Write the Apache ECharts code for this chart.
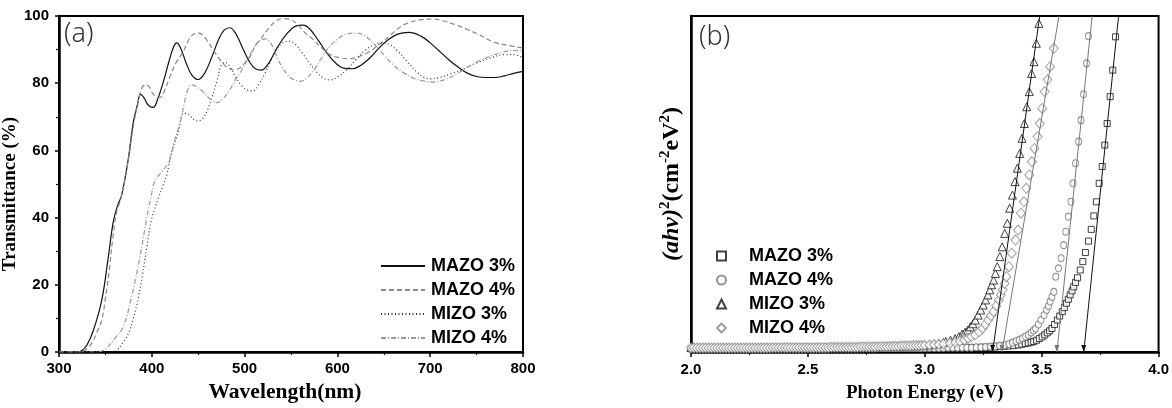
<!DOCTYPE html>
<html>
<head>
<meta charset="utf-8">
<script src="https://cdn.jsdelivr.net/npm/echarts@6/dist/echarts.min.js"></script>
<style>
  html, body { margin: 0; padding: 0; background: #fff; }
  #main { width: 1172px; height: 408px; }
</style>
</head>
<body>
<div id="main"></div>
<script>
// (a) transmittance spectra, [wavelength nm, T %]
var mazo3 = [[300,0],[310,0],[320,0],[325,0.5],[330,2],[337,6.4],[346,15.3],[353,28],[358.5,38.8],[363,43.5],[367.5,46.7],[374.7,57.5],[380,68.3],[384,73],[388,76.7],[392,75.5],[396,73.5],[401.6,72.8],[406,75],[412,80],[418,86],[423,90.5],[426.8,92],[431,90.5],[437,86],[443,82.5],[450,81.1],[457,83],[465,88],[472,93],[478,95.8],[484,96.5],[490,95],[497,91],[505,86.5],[512,84.2],[518,83.9],[526,86],[535,90.5],[545,94.5],[555,97],[563,97.3],[570,96.2],[580,92.5],[590,88.5],[600,85.5],[608,84.4],[616,84.3],[625,85.3],[635,87.5],[645,90.5],[655,93],[665,94.6],[677,95.1],[690,94],[700,92],[710,89.5],[720,87],[730,84.8],[740,83],[750,82],[760,81.7],[770,81.7],[780,82.2],[790,82.9],[800,83.5]];
var mazo4 = [[300,0],[320,0],[328,0.5],[335,2.5],[341,6],[346,9.4],[350,16],[353.6,23],[358,34],[362,41.5],[367,46],[374,56],[380,67],[385,74],[389,78.5],[393,79.5],[397,79],[401,77],[405,76],[409,75.8],[414,78],[419.6,82],[426,86],[434,89.5],[440,93],[445,94.6],[450,95],[455,94.3],[459,93],[466,90],[473.5,87],[480,85],[488,84],[495,84.5],[500,86],[506,88],[512,91.5],[517,93],[525,96],[533,98.3],[541,99.2],[549,99],[557,97.5],[565,95],[574,93],[583,90.5],[592,88.5],[602,87.6],[612,87.3],[622,87.8],[632,89],[645,91.5],[658,94.5],[668,96.8],[675,97.8],[690,98.9],[703,99.1],[715,98.5],[728,97.3],[740,96],[753,94.4],[768,92.3],[785,91.2],[800,90.5]];
var mizo3 = [[300,0],[355,0],[362,0.5],[368,2.5],[374.7,5.4],[380,10],[385.5,16.2],[390,23],[394.5,31],[400,39.8],[407,45.7],[412,49.5],[416,52.6],[421.5,59.6],[428.5,65.4],[434,71],[438,71],[442,70],[446,69],[450,68.8],[455,69.5],[460,72],[465,76],[470,80.5],[475,85.5],[479,86.2],[484,85],[490,82],[497,79.2],[503,78],[509,77.7],[515,79.5],[522,83],[528,86.5],[534.5,90],[541,92],[548,92.5],[555,91.5],[562,89],[570,86],[578,83.2],[585,81.5],[592,81],[600,81.8],[610,84],[620,87],[630,89.8],[640,91.5],[648,92],[656,91.5],[665,89.5],[675,86.5],[685,83.5],[693,81.8],[700,81.3],[710,81.7],[722,82.8],[735,84.2],[750,86],[765,87.5],[780,88.5],[790,88.5],[800,87.5]];
var mizo4 = [[300,0],[340,0],[346,0.3],[351,1],[360,4],[369,7.4],[378,16.2],[387,28],[394.5,39.8],[399,46],[403.5,51],[410.7,53.6],[416,55.5],[419.6,57.5],[425,63.4],[429,67],[432,70],[435,74],[439,78.2],[443,79.5],[448,79],[455,77.5],[462,75.5],[470,74.2],[477,75.5],[484,78],[490,81],[495,83],[503,87],[510,90.5],[516,92.5],[522,93.2],[528,92],[534,88.5],[540,85],[548,82],[555,80.8],[560,80.6],[567,81.5],[575,84],[583,87.5],[592,91],[602,93.5],[611,94.7],[621,94.9],[630,94],[640,91.5],[650,88.5],[660,85.5],[672,83],[684,81.3],[694,80.6],[703,80.3],[715,81],[730,83],[745,85.5],[764,88],[780,89.3],[790,89.8],[800,89.5]];

// (b) Tauc plot, baseline energies shared by all samples
var bandEnergy = [
  2.0000,2.0125,2.0250,2.0375,2.0500,2.0625,2.0750,2.0875,2.1000,2.1125,
  2.1250,2.1375,2.1500,2.1625,2.1750,2.1875,2.2000,2.2125,2.2250,2.2375,
  2.2500,2.2625,2.2750,2.2875,2.3000,2.3125,2.3250,2.3375,2.3500,2.3625,
  2.3750,2.3875,2.4000,2.4125,2.4250,2.4375,2.4500,2.4625,2.4750,2.4875,
  2.5000,2.5125,2.5250,2.5375,2.5500,2.5625,2.5750,2.5875,2.6000,2.6125,
  2.6250,2.6375,2.6500,2.6625,2.6750,2.6875,2.7000,2.7125,2.7250,2.7375,
  2.7500,2.7625,2.7750,2.7875,2.8000,2.8125,2.8250,2.8375,2.8500,2.8625,
  2.8750,2.8875,2.9000,2.9125,2.9250,2.9375,2.9500,2.9625,2.9750,2.9875,
  3.0000];
var bandMAZO3 = [
  1.0,1.0,1.0,1.0,1.0,1.0,1.0,1.0,1.0,1.0,
  1.0,1.0,1.0,1.0,1.0,1.0,1.0,1.0,1.0,1.0,
  1.0,1.0,1.0,1.0,1.0,1.0,1.0,1.0,1.0,1.0,
  1.0,1.0,1.0,1.0,1.0,1.0,1.0,1.0,1.0,1.0,
  1.0,1.0,1.0,1.0,1.0,1.0,1.0,1.0,1.0,1.0,
  1.0,1.0,1.0,1.0,1.0,1.0,1.0,1.0,1.0,1.0,
  1.0,1.0,1.0,1.0,1.0,1.0,1.0,1.0,1.0,1.0,
  1.0,1.0,1.1,1.1,1.1,1.1,1.1,1.1,1.1,1.1,
  1.1];
var bandMAZO4 = [
  1.1,1.1,1.1,1.1,1.1,1.1,1.1,1.1,1.1,1.1,
  1.1,1.1,1.1,1.1,1.1,1.1,1.1,1.1,1.1,1.1,
  1.1,1.1,1.1,1.1,1.1,1.1,1.1,1.1,1.1,1.1,
  1.1,1.1,1.1,1.1,1.1,1.1,1.1,1.1,1.1,1.1,
  1.1,1.1,1.1,1.1,1.1,1.1,1.1,1.1,1.1,1.1,
  1.1,1.1,1.1,1.1,1.1,1.1,1.1,1.1,1.1,1.1,
  1.1,1.1,1.1,1.1,1.2,1.2,1.2,1.2,1.2,1.2,
  1.2,1.2,1.2,1.2,1.2,1.2,1.2,1.2,1.2,1.2,
  1.2];
var bandMIZO3 = [
  1.3,1.3,1.3,1.3,1.3,1.3,1.3,1.3,1.3,1.3,
  1.3,1.3,1.3,1.3,1.3,1.3,1.3,1.3,1.3,1.3,
  1.3,1.3,1.3,1.3,1.3,1.3,1.3,1.3,1.3,1.3,
  1.3,1.3,1.4,1.4,1.4,1.4,1.4,1.4,1.4,1.4,
  1.4,1.4,1.4,1.4,1.4,1.4,1.4,1.4,1.4,1.4,
  1.4,1.4,1.4,1.4,1.4,1.4,1.5,1.5,1.5,1.5,
  1.5,1.5,1.6,1.6,1.6,1.6,1.7,1.7,1.7,1.7,
  1.8,1.8,1.8,1.8,1.9,1.9,1.9,1.9,2.0,2.0,
  2.1];
var bandMIZO4 = [
  1.2,1.2,1.2,1.2,1.2,1.2,1.2,1.2,1.2,1.2,
  1.2,1.2,1.2,1.2,1.2,1.2,1.2,1.2,1.2,1.2,
  1.2,1.2,1.2,1.2,1.2,1.2,1.2,1.2,1.3,1.3,
  1.3,1.3,1.3,1.3,1.3,1.3,1.3,1.3,1.3,1.3,
  1.3,1.3,1.3,1.3,1.3,1.3,1.3,1.3,1.4,1.4,
  1.4,1.4,1.4,1.4,1.4,1.4,1.4,1.4,1.5,1.5,
  1.5,1.5,1.5,1.5,1.6,1.6,1.6,1.6,1.7,1.7,
  1.7,1.7,1.8,1.8,1.8,1.8,1.9,1.9,1.9,2.0,
  2.0];

var edgeMAZO3 = [[3.02,1.1],[3.04,1.1],[3.06,1.1],[3.08,1.2],[3.10,1.2],[3.12,1.2],[3.14,1.2],[3.16,1.3],[3.18,1.3],[3.20,1.3],[3.22,1.3],[3.24,1.4],[3.26,1.4],[3.28,1.4],[3.30,1.5],[3.32,1.6],[3.34,1.7],[3.36,1.8],[3.38,1.9],[3.40,2.1],[3.415,2.3],[3.43,2.5],[3.443,2.7],[3.455,2.9],[3.466,3.1],[3.478,3.5],[3.49,4.0],[3.502,4.5],[3.513,5.1],[3.524,5.7],[3.534,6.3],[3.544,7.0],[3.555,8.2],[3.567,9.5],[3.577,10.7],[3.588,12.0],[3.597,13.2],[3.606,14.5],[3.614,15.7],[3.622,17.0],[3.63,18.2],[3.637,19.4],[3.645,20.7],[3.653,22.1],[3.665,24.4],[3.676,26.9],[3.687,29.6],[3.70,33.0],[3.712,36.5],[3.723,40.5],[3.734,44.7],[3.746,50.2],[3.759,55.2],[3.77,61.6],[3.78,68.0],[3.793,76.0],[3.804,83.9],[3.816,93.8]];
var edgeMAZO4 = [[3.02,1.2],[3.04,1.2],[3.06,1.2],[3.08,1.2],[3.10,1.3],[3.12,1.3],[3.14,1.3],[3.16,1.3],[3.18,1.3],[3.20,1.3],[3.22,1.4],[3.24,1.4],[3.26,1.5],[3.28,1.6],[3.30,1.7],[3.32,1.9],[3.342,2.1],[3.36,2.4],[3.375,2.8],[3.39,3.2],[3.404,3.6],[3.418,4.1],[3.431,4.6],[3.443,5.1],[3.455,5.8],[3.465,6.4],[3.474,7.0],[3.486,8.2],[3.497,9.5],[3.51,11.0],[3.521,12.5],[3.529,13.7],[3.536,15.0],[3.544,16.4],[3.552,17.9],[3.56,22.4],[3.572,24.9],[3.583,27.9],[3.594,31.8],[3.603,35.8],[3.614,40.3],[3.625,44.7],[3.634,50.2],[3.645,56.2],[3.658,62.6],[3.668,69.0],[3.679,76.7],[3.692,85.9],[3.70,94.0]];
var edgeMIZO3 = [[3.02,2.2],[3.04,2.4],[3.06,2.6],[3.08,2.9],[3.09,3.1],[3.11,3.5],[3.13,4.0],[3.146,4.6],[3.16,5.3],[3.172,5.9],[3.184,6.5],[3.195,7.5],[3.206,8.4],[3.216,9.5],[3.228,11.0],[3.239,12.5],[3.25,14.0],[3.26,15.5],[3.27,17.0],[3.278,18.5],[3.286,20.0],[3.294,21.4],[3.302,23.4],[3.31,25.4],[3.321,28.4],[3.331,31.3],[3.342,35.3],[3.353,38.3],[3.363,42.8],[3.375,46.7],[3.386,50.7],[3.396,54.7],[3.406,59.1],[3.416,63.6],[3.426,68.0],[3.436,73.0],[3.447,77.5],[3.457,82.9],[3.467,86.4],[3.477,91.9],[3.488,97.8]];
var edgeMIZO4 = [[3.02,2.1],[3.04,2.2],[3.06,2.3],[3.08,2.4],[3.107,2.6],[3.13,2.9],[3.15,3.2],[3.169,3.6],[3.185,4.1],[3.20,4.6],[3.216,5.1],[3.232,6.0],[3.247,7.0],[3.259,8.2],[3.271,9.5],[3.283,10.8],[3.294,12.0],[3.306,13.8],[3.317,15.5],[3.325,17.0],[3.333,18.5],[3.341,20.4],[3.349,22.4],[3.36,25.4],[3.372,29.4],[3.388,33.3],[3.399,36.3],[3.411,41.3],[3.424,44.7],[3.434,48.7],[3.447,52.7],[3.458,56.6],[3.469,60.6],[3.482,64.1],[3.492,68.0],[3.502,72.5],[3.513,77.5],[3.525,81.0],[3.536,84.9],[3.552,90.4]];

// linear fits: [intercept eV, eV at top of frame]
var fitMAZO3 = [3.68, 3.829];
var fitMAZO4 = [3.565, 3.716];
var fitMIZO3 = [3.29, 3.4915];
var fitMIZO4 = [3.33, 3.574];

var names = ['MAZO 3%', 'MAZO 4%', 'MIZO 3%', 'MIZO 4%'];

var chart = echarts.init(document.getElementById('main'));

var tickFont = { fontFamily: 'Liberation Sans', fontWeight: 'bold', fontSize: 15, color: '#000' };
var titleFont = { fontFamily: 'Liberation Serif', fontWeight: 'bold', color: '#000' };

function tauc(band, edge) {
  var d = bandEnergy.map(function (e, i) { return [e, band[i]]; });
  return d.concat(edge);
}

function fitLine(name, fit, color) {
  return {
    name: name + ' fit', type: 'line', xAxisIndex: 1, yAxisIndex: 1,
    symbol: 'none', z: 5,
    lineStyle: { color: color, width: 1 },
    data: [
      { value: [fit[1], 100] },
      { value: [fit[0], 0], symbol: 'triangle', symbolSize: [5, 7], symbolRotate: 180, symbolOffset: [0, -3.5],
        itemStyle: { color: color } }
    ]
  };
}

function spectrum(name, data, color, type, width) {
  return {
    name: name, type: 'line', xAxisIndex: 0, yAxisIndex: 0,
    symbol: 'none', smooth: 0.4,
    lineStyle: { color: color, width: width, type: type },
    itemStyle: { color: color },
    data: data
  };
}

function marks(name, data, symbol, size, color) {
  return {
    name: 'b-' + name, type: 'scatter', xAxisIndex: 1, yAxisIndex: 1,
    symbol: symbol, symbolSize: size,
    itemStyle: { color: '#fff', borderColor: color, borderWidth: 1 },
    data: data
  };
}

var option = {
  animation: false,
  backgroundColor: '#fff',
  grid: [
    { left: 59, top: 16, width: 464, height: 339, show: true, borderColor: '#000', borderWidth: 2 },
    { left: 691, top: 16, width: 468, height: 336, show: true, borderColor: '#000', borderWidth: 2 }
  ],
  xAxis: [
    {
      gridIndex: 0, type: 'value', min: 300, max: 800, interval: 100,
      name: 'Wavelength(nm)', nameLocation: 'middle', nameGap: 29,
      nameTextStyle: Object.assign({ fontSize: 21.5, padding: [0, 12, 0, 0] }, titleFont),
      axisLine: { lineStyle: { color: '#000', width: 2.5 } },
      axisTick: { length: 5, lineStyle: { color: '#000', width: 1.5 } },
      minorTick: { show: true, splitNumber: 2, length: 3, lineStyle: { color: '#000', width: 1.2 } },
      axisLabel: Object.assign({ margin: 9 }, tickFont),
      splitLine: { show: false }
    },
    {
      gridIndex: 1, type: 'value', min: 2, max: 4, interval: 0.5,
      name: 'Photon Energy (eV)', nameLocation: 'middle', nameGap: 32,
      nameTextStyle: Object.assign({ fontSize: 18.5 }, titleFont),
      axisLine: { lineStyle: { color: '#000', width: 2.5 } },
      axisTick: { length: 5, lineStyle: { color: '#000', width: 1.5 } },
      minorTick: { show: true, splitNumber: 2, length: 3, lineStyle: { color: '#000', width: 1.2 } },
      axisLabel: Object.assign({ margin: 10, formatter: function (v) { return v.toFixed(1); } }, tickFont),
      splitLine: { show: false }
    }
  ],
  yAxis: [
    {
      gridIndex: 0, type: 'value', min: 0, max: 100, interval: 20,
      name: 'Transmittance (%)', nameLocation: 'middle', nameGap: 38,
      nameTextStyle: Object.assign({ fontSize: 19, padding: [0, 20, 0, 0] }, titleFont),
      axisLine: { lineStyle: { color: '#000', width: 2.5 } },
      axisTick: { length: 4, lineStyle: { color: '#000', width: 1.5 } },
      minorTick: { show: true, splitNumber: 2, length: 3, lineStyle: { color: '#000', width: 1.2 } },
      axisLabel: Object.assign({ margin: 10 }, tickFont),
      splitLine: { show: false }
    },
    {
      gridIndex: 1, type: 'value', min: 0, max: 100,
      name: '{it|(ahv)}{sup|2}{n|(cm}{sup|-2}{n|eV}{sup|2}{n|)}',
      nameLocation: 'middle', nameGap: 6,
      nameTextStyle: {
        rich: {
          it: Object.assign({ fontSize: 24, fontStyle: 'italic', lineHeight: 27 }, titleFont),
          n: Object.assign({ fontSize: 24, lineHeight: 27 }, titleFont),
          sup: Object.assign({ fontSize: 15, verticalAlign: 'top', lineHeight: 15 }, titleFont)
        }
      },
      axisLine: { lineStyle: { color: '#000', width: 2.5 } },
      axisTick: { show: false },
      axisLabel: { show: false },
      splitLine: { show: false }
    }
  ],
  legend: [
    {
      data: names, orient: 'vertical', left: 380, top: 257, padding: 0,
      itemWidth: 44, itemHeight: 14, itemGap: 6,
      itemStyle: { opacity: 0 },
      textStyle: { fontFamily: 'Liberation Sans', fontWeight: 'bold', fontSize: 18, color: '#000', lineHeight: 14, padding: [0, 0, 0, 1] }
    },
    {
      data: names.map(function (n) { return 'b-' + n; }),
      formatter: function (n) { return n.slice(2); },
      orient: 'vertical', left: 716, top: 247, padding: 0,
      itemWidth: 9, itemHeight: 9, itemGap: 6,
      textStyle: { fontFamily: 'Liberation Sans', fontWeight: 'bold', fontSize: 18, color: '#000', lineHeight: 9, padding: [0, 0, 0, 18] }
    }
  ],
  graphic: [
    { type: 'text', left: 64, top: 21, style: { text: '(a)', font: '300 27px "Noto Sans"', fill: '#333' } },
    { type: 'text', left: 699, top: 24, style: { text: '(b)', font: '300 27px "Noto Sans"', fill: '#333' } }
  ],
  series: [
    spectrum(names[0], mazo3, '#111', 'solid', 1.2),
    spectrum(names[1], mazo4, '#888', [5, 3], 1.2),
    spectrum(names[2], mizo3, '#333', [1, 2.5], 1.2),
    spectrum(names[3], mizo4, '#999', [5, 2, 1, 2], 1.2),
    marks(names[0], tauc(bandMAZO3, edgeMAZO3), 'rect', 6, '#111'),
    marks(names[1], tauc(bandMAZO4, edgeMAZO4), 'circle', [6, 7], '#777'),
    marks(names[2], tauc(bandMIZO3, edgeMIZO3), 'triangle', 8, '#111'),
    marks(names[3], tauc(bandMIZO4, edgeMIZO4), 'diamond', [9, 10], '#888'),
    fitLine(names[0], fitMAZO3, '#111'),
    fitLine(names[1], fitMAZO4, '#777'),
    fitLine(names[2], fitMIZO3, '#111'),
    fitLine(names[3], fitMIZO4, '#777')
  ]
};

chart.setOption(option);
</script>
</body>
</html>
